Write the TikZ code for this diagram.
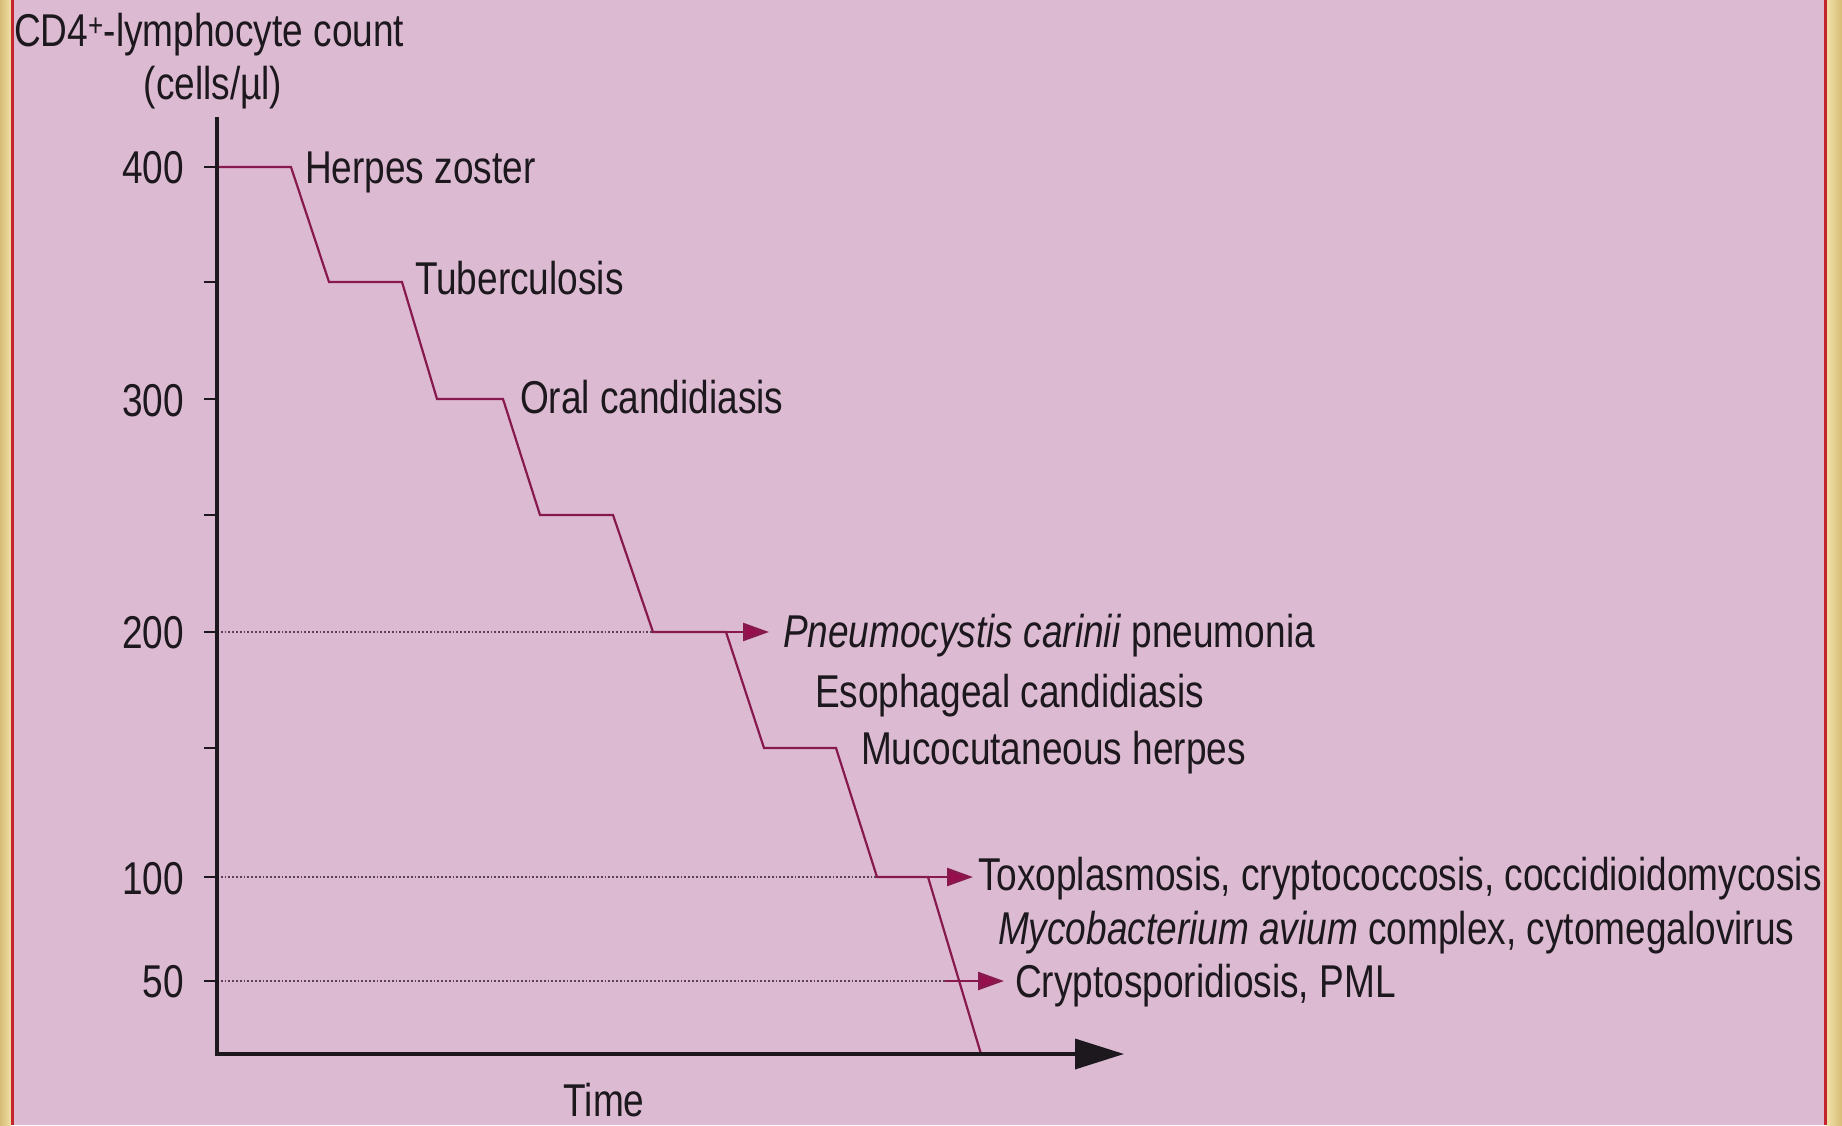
\documentclass[tikz,border=0pt]{standalone}
\usepackage{fontspec}
\setmainfont{Liberation Sans}[FakeStretch=0.805]
\usetikzlibrary{arrows.meta}
\definecolor{bgpink}{RGB}{220,187,210}
\definecolor{goldA}{RGB}{240,224,168}
\definecolor{goldB}{RGB}{214,188,118}
\definecolor{redline}{RGB}{196,36,44}
\definecolor{stepcol}{RGB}{135,25,78}
\definecolor{arrowcol}{RGB}{150,14,76}
\definecolor{ink}{RGB}{28,24,30}
\definecolor{dotcol}{RGB}{90,66,86}
\begin{document}
\begin{tikzpicture}[x=1pt,y=-1pt,
  every node/.style={inner sep=0pt, outer sep=0pt, text=ink},
  lbl/.style={font=\fontsize{46}{52}\selectfont, anchor=base west},
  ticklbl/.style={font=\fontsize{46}{52}\selectfont, anchor=base east},
  axisline/.style={draw=ink, line width=3.5pt},
  tickline/.style={draw=ink, line width=2.5pt},
  stepline/.style={draw=stepcol, line width=2.2pt, line join=miter},
  dotline/.style={draw=dotcol, line width=1.8pt, dash pattern=on 1.8pt off 2pt},
  hitarrow/.style={draw=stepcol, line width=2.6pt, -{Triangle[length=26pt,width=18pt,fill=arrowcol]}}
]
\useasboundingbox (0,0) rectangle (1842,1125);
% background and frame
\fill[bgpink] (0,0) rectangle (1842,1125);
\shade[left color=goldB, right color=goldA] (0,0) rectangle (11,1125);
\fill[redline] (11,0) rectangle (14,1125);
\fill[redline] (1824,0) rectangle (1827,1125);
\shade[left color=goldA, right color=goldB] (1827,0) rectangle (1842,1125);

% axes
\coordinate (O) at (217,1054);
\coordinate (Ytop) at (217,117);
\coordinate (Xend) at (1124,1054);

% tick positions
\foreach \nm/\yy in {t400/167,t350/282,t300/399,t250/515,t200/632,t150/748,t100/877,t50/981}{
  \coordinate (\nm) at (217,\yy);
  \coordinate (\nm l) at (204,\yy);
  \draw[tickline] (\nm l) -- (\nm);
}

% step points
\coordinate (s0) at (217,167);
\coordinate (s1) at (291,167);
\coordinate (s2) at (329,282);
\coordinate (s3) at (402,282);
\coordinate (s4) at (437,399);
\coordinate (s5) at (503,399);
\coordinate (s6) at (540,515);
\coordinate (s7) at (613,515);
\coordinate (s8) at (653,632);
\coordinate (s9) at (726,632);
\coordinate (s10) at (764,748);
\coordinate (s11) at (836,748);
\coordinate (s12) at (877,877);
\coordinate (s13) at (928,877);
\coordinate (s14) at (981,1054);

\coordinate (a200) at (769,632);
\coordinate (a100) at (973,877);
\coordinate (c50) at (945,981);
\coordinate (a50) at (1004,981);

% dotted guide lines
\draw[dotline] (t200) -- (s8);
\draw[dotline] (t100) -- (s12);
\draw[dotline] (t50) -- (c50);

% step curve
\draw[stepline] (s0) -- (s1) -- (s2) -- (s3) -- (s4) -- (s5) -- (s6) -- (s7)
  -- (s8) -- (s9) -- (s10) -- (s11) -- (s12) -- (s13) -- (s14);

% arrows to infections
\draw[hitarrow] (s8) -- (a200);
\draw[hitarrow] (s12) -- (a100);
\draw[hitarrow] (c50) -- (a50);

\draw[axisline, -{Triangle[length=49pt,width=30pt]}] (Ytop) -- (O) -- (Xend);

% tick labels
\node[ticklbl] (l400) at (184,183) {400};
\node[ticklbl] (l300) at (184,416) {300};
\node[ticklbl] (l200) at (184,648) {200};
\node[ticklbl] (l100) at (184,894) {100};
\node[ticklbl] (l50) at (184,997) {50};

% axis titles
\node[lbl] (ytitle) at (14,46) {CD4\textsuperscript{+}-lymphocyte count};
\node[lbl, anchor=base] (yunit) at (213,99) {(cells/µl)};
\node[lbl, anchor=base] (xtitle) at (604,1116) {Time};

% infection labels
\node[lbl] (hz) at (305,183) {Herpes zoster};
\node[lbl] (tb) at (415,294) {Tuberculosis};
\node[lbl] (oc) at (520,413) {Oral candidiasis};
\node[lbl] (pcp) at (783,647) {\textit{Pneumocystis carinii} pneumonia};
\node[lbl] (ec) at (815,707) {Esophageal candidiasis};
\node[lbl] (mh) at (861,764) {Mucocutaneous herpes};
\node[lbl] (toxo) at (978,890) {Toxoplasmosis, cryptococcosis, coccidioidomycosis};
\node[lbl] (mac) at (998,944) {\textit{Mycobacterium avium} complex, cytomegalovirus};
\node[lbl] (crypto) at (1015,997) {Cryptosporidiosis, PML};
\end{tikzpicture}
\end{document}
